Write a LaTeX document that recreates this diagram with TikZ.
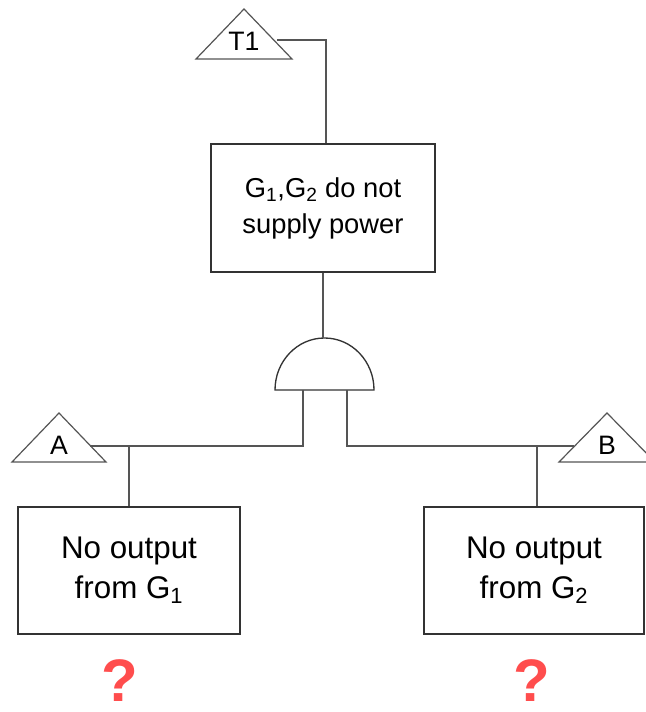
\documentclass[tikz,border=0pt]{standalone}
\usepackage{fontspec}
\setmainfont{Liberation Sans}
\definecolor{linegray}{HTML}{555555}
\definecolor{boxgray}{HTML}{333333}
\definecolor{qred}{HTML}{FF4D4D}
\begin{document}
\begin{tikzpicture}[x=0.75pt,y=-0.75pt,
  conn/.style={draw=linegray,line width=0.9pt},
  evbox/.style={draw=boxgray,line width=1pt,fill=white,align=center,inner sep=0pt,text=black},
  tri/.style={draw=linegray,line width=0.9pt,fill=white},
  trilabel/.style={font=\fontsize{20}{20}\selectfont,inner sep=0pt},
  qmark/.style={font=\fontsize{45}{45}\selectfont\bfseries,text=qred,inner sep=0pt}]
\useasboundingbox (0,0) rectangle (645,712);

% top transfer triangle T1
\draw[tri] (196,59) -- (244,9) -- (292,59) -- cycle;
\node[trilabel] (t1) at (244,41) {T1};
\coordinate (t1r) at (277,40);
\coordinate (t1c) at (326,40);

% top event box
\node[evbox,minimum width=168pt,minimum height=96pt,font=\fontsize{20.5}{27}\selectfont] (top) at (323,208) {G\textsubscript{1},G\textsubscript{2} do not\\supply power};
\draw[conn] (t1r) -- (t1c) -- (t1c |- top.north);

% AND gate
\coordinate (gL) at (275,390);
\coordinate (gR) at (374,390);
\coordinate (gT) at (324.5,338);
\draw[draw=boxgray,line width=1pt,fill=white] (gL) -- (gR) arc[start angle=0,end angle=-180,x radius=49.5,y radius=52] -- cycle;
\draw[conn] (top.south) -- (top.south |- gT);

% triangles A and B
\draw[tri] (12,462) -- (59,413) -- (106,462) -- cycle;
\node[trilabel] (a) at (59,445) {A};
\coordinate (ar) at (90,446);
\draw[tri] (559,462) -- (607,413) -- (655,462) -- cycle;
\node[trilabel] (b) at (607,445) {B};
\coordinate (bl) at (574,446);

% bottom boxes
\node[evbox,minimum width=166.5pt,minimum height=95.25pt,font=\fontsize{23.5}{30}\selectfont] (g1) at (129,570.5) {No output\\from G\textsubscript{1}};
\node[evbox,minimum width=165pt,minimum height=95.25pt,font=\fontsize{23.5}{30}\selectfont] (g2) at (534,570.5) {No output\\from G\textsubscript{2}};

% gate inputs
\coordinate (inL) at (303,390);
\coordinate (inR) at (347,390);
\coordinate (jL) at (129,446);
\coordinate (jR) at (537,446);
\draw[conn] (inL) -- (inL |- jL) -- (ar);
\draw[conn] (jL) -- (g1.north -| jL);
\draw[conn] (inR) -- (inR |- jR) -- (bl);
\draw[conn] (jR) -- (g2.north -| jR);

% question marks
\node[qmark] (q1) at (120,681) {?};
\node[qmark] (q2) at (532,681) {?};
\end{tikzpicture}
\end{document}
